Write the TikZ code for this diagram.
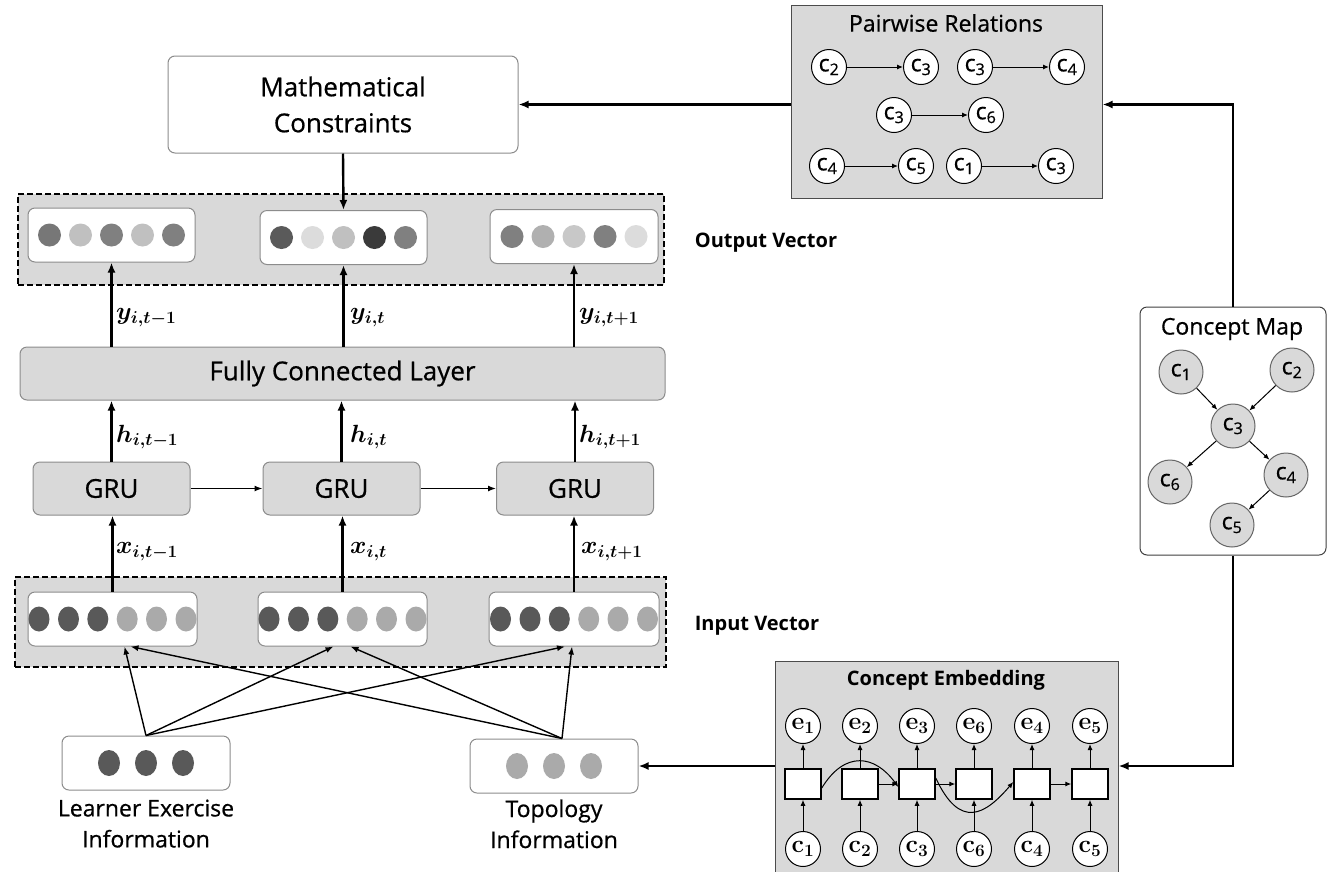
\documentclass[tikz,border=0pt]{standalone}
\usepackage[no-math]{fontspec}
\setmainfont{Open Sans}[UprightFeatures={FakeBold=0.6}]
\usepackage{amsmath,bm}
\usetikzlibrary{arrows.meta}
\definecolor{boxgray}{HTML}{D9D9D9}
\definecolor{edgegray}{HTML}{8C8C8C}
\definecolor{dA}{HTML}{595959}
\definecolor{dB}{HTML}{AAAAAA}
\definecolor{o1}{HTML}{777777}
\definecolor{o2}{HTML}{C0C0C0}
\definecolor{o3}{HTML}{808080}
\definecolor{o4}{HTML}{5A5A5A}
\definecolor{o5}{HTML}{DCDCDC}
\definecolor{o6}{HTML}{3A3A3A}
\definecolor{o7}{HTML}{B0B0B0}
\definecolor{o8}{HTML}{C8C8C8}
\newcommand{\cn}[1]{c\textsubscript{#1}}
\tikzset{
  wbox/.style={draw=edgegray, fill=white, rounded corners=7pt, line width=1pt, inner sep=0pt, align=center},
  gbox/.style={draw=edgegray, fill=boxgray, rounded corners=7pt, line width=1pt, inner sep=0pt, align=center},
  dashbox/.style={draw=black, dashed, dash pattern=on 6pt off 3pt, fill=boxgray, line width=2.2pt, inner sep=0pt},
  panel/.style={draw=black!70, fill=boxgray, line width=1pt, inner sep=0pt},
  arr/.style={-{Latex[length=10pt,width=8pt]}, line width=2.4pt},
  tarr/.style={-{Latex[length=8pt,width=6pt]}, line width=1.4pt},
  sarr/.style={-{Latex[length=6pt,width=5pt]}, line width=1pt},
  wcirc/.style={circle, draw=black, fill=white, line width=1pt, minimum size=35pt, inner sep=0pt, font=\fontsize{23}{23}\selectfont},
  gcirc/.style={circle, draw=black!60, fill=boxgray, line width=1pt, minimum size=44pt, inner sep=0pt, font=\fontsize{23}{23}\selectfont},
  ecirc/.style={circle, draw=black, fill=white, line width=1pt, minimum size=35pt, inner sep=0pt, font=\fontsize{25}{25}\selectfont},
  sq/.style={draw=black, fill=white, line width=1.5pt, minimum width=36pt, minimum height=30pt, inner sep=0pt},
  lbl/.style={anchor=west, inner sep=0pt, font=\fontsize{25}{25}\selectfont},
  big/.style={font=\fontsize{26}{36}\selectfont},
  sect/.style={font=\bfseries\fontsize{20}{20}\selectfont},
}
\begin{document}
\begin{tikzpicture}[x=1pt,y=-1pt]
\useasboundingbox (0,0) rectangle (1327,871);
\fill[white] (0,0) rectangle (1327,871);

% ---- left column ----
\node[wbox, big, minimum width=350pt, minimum height=97pt] (mc) at (343,104.5) {Mathematical\\Constraints};

\node[dashbox, minimum width=646pt, minimum height=91pt] (outv) at (341,239.5) {};
\node[wbox, minimum width=167pt, minimum height=54pt] (ob1) at (111.5,235) {};
\node[wbox, minimum width=167pt, minimum height=54pt] (ob2) at (343.5,237.5) {};
\node[wbox, minimum width=168pt, minimum height=54pt] (ob3) at (574,236.5) {};
\foreach \c/\d in {o1/-62,o2/-31,o3/0,o2/31,o3/62} \fill[\c] ([xshift=\d pt]ob1.center) circle (11.5);
\foreach \c/\d in {o4/-62,o5/-31,o2/0,o6/31,o3/62} \fill[\c] ([xshift=\d pt]ob2.center) circle (11.5);
\foreach \c/\d in {o3/-62,o7/-31,o8/0,o3/31,o5/62} \fill[\c] ([xshift=\d pt]ob3.center) circle (11.5);
\node[sect] (outlbl) at (766,243) {Output Vector};

\node[gbox, big, minimum width=645pt, minimum height=53pt] (fcl) at (342.5,373.5) {Fully Connected Layer};

\node[gbox, big, minimum width=157pt, minimum height=53pt] (g1) at (111.5,488.5) {GRU};
\node[gbox, big, minimum width=157pt, minimum height=53pt] (g2) at (341.5,488.5) {GRU};
\node[gbox, big, minimum width=157pt, minimum height=53pt] (g3) at (575,488.5) {GRU};

\node[dashbox, minimum width=651pt, minimum height=90pt] (inv) at (340.5,622) {};
\node[wbox, minimum width=169pt, minimum height=54pt] (ib1) at (112.5,619) {};
\node[wbox, minimum width=169pt, minimum height=54pt] (ib2) at (342.5,619) {};
\node[wbox, minimum width=170pt, minimum height=54pt] (ib3) at (574,619) {};
\foreach \b in {ib1,ib2,ib3}{
  \foreach \d in {-73.5,-44,-14.7} \fill[dA] ([xshift=\d pt]\b.center) ellipse (10.5 and 12.5);
  \foreach \d in {14.7,44,73.5} \fill[dB] ([xshift=\d pt]\b.center) ellipse (10.5 and 12.5);
}
\node[sect] (inlbl) at (757,626) {Input Vector};

\node[wbox, minimum width=168pt, minimum height=54pt] (le) at (146,763) {};
\foreach \d in {-37,0,37} \fill[dA] ([xshift=\d pt]le.center) ellipse (11 and 13);
\node[font=\fontsize{23}{31}\selectfont, align=center, anchor=north] (letxt) at (146,796) {Learner Exercise\\Information};

\node[wbox, minimum width=168pt, minimum height=54pt] (topo) at (554,766) {};
\foreach \d in {-37,0,37} \fill[dB] ([xshift=\d pt]topo.center) ellipse (11 and 13);
\node[font=\fontsize{23}{31}\selectfont, align=center, anchor=north] (totxt) at (554,796) {Topology\\Information};

% arrows left column
\draw[arr] (mc.south) -- (ob2.north);
\draw[arr] (fcl.north -| ob1) -- (ob1.south);
\draw[arr] (fcl.north -| ob2) -- (ob2.south);
\draw[arr] (fcl.north -| ob3) -- (ob3.south);
\draw[arr] (g1.north) -- (fcl.south -| g1);
\draw[arr] (g2.north) -- (fcl.south -| g2);
\draw[arr] (g3.north) -- (fcl.south -| g3);
\draw[tarr] (g1.east) -- (g2.west);
\draw[tarr] (g2.east) -- (g3.west);
\draw[arr] (ib1.north) -- (g1.south -| ib1);
\draw[arr] (ib2.north) -- (g2.south -| ib2);
\draw[arr] (ib3.north) -- (g3.south -| ib3);

\node[lbl] (ly1) at (116,318) {$\bm{y_{i,t-1}}$};
\node[lbl] (ly2) at (350,318) {$\bm{y_{i,t}}$};
\node[lbl] (ly3) at (579,318) {$\bm{y_{i,t+1}}$};
\node[lbl] (lh1) at (116,437) {$\bm{h_{i,t-1}}$};
\node[lbl] (lh2) at (350,437) {$\bm{h_{i,t}}$};
\node[lbl] (lh3) at (579,437) {$\bm{h_{i,t+1}}$};
\node[lbl] (lx1) at (116,552) {$\bm{x_{i,t-1}}$};
\node[lbl] (lx2) at (350,552) {$\bm{x_{i,t}}$};
\node[lbl] (lx3) at (581,552) {$\bm{x_{i,t+1}}$};

\draw[tarr] (le.north) -- ([xshift=12pt]ib1.south);
\draw[tarr] (le.north) -- ([xshift=-9pt]ib2.south);
\draw[tarr] (le.north) -- ([xshift=-9pt]ib3.south);
\draw[tarr] ([xshift=8pt]topo.north) -- ([xshift=18pt]ib1.south);
\draw[tarr] ([xshift=8pt]topo.north) -- ([xshift=8pt]ib2.south);
\draw[tarr] ([xshift=8pt]topo.north) -- ([xshift=-2pt]ib3.south);

% ---- Pairwise relations ----
\node[panel, minimum width=311pt, minimum height=193pt] (pr) at (946.5,101.5) {};
\node[font=\fontsize{23}{23}\selectfont] (prt) at (946,23) {Pairwise Relations};
\node[wcirc] (p1a) at (829,67) {\cn{2}};
\node[wcirc] (p1b) at (921,67) {\cn{3}};
\node[wcirc] (p2a) at (975,67) {\cn{3}};
\node[wcirc] (p2b) at (1067,67) {\cn{4}};
\node[wcirc] (p3a) at (894,115) {\cn{3}};
\node[wcirc] (p3b) at (986,115) {\cn{6}};
\node[wcirc] (p4a) at (827,166) {\cn{4}};
\node[wcirc] (p4b) at (916,166) {\cn{5}};
\node[wcirc] (p5a) at (964,166) {\cn{1}};
\node[wcirc] (p5b) at (1056,166) {\cn{3}};
\foreach \a/\b in {p1a/p1b,p2a/p2b,p3a/p3b,p4a/p4b,p5a/p5b} \draw[sarr] (\a) -- (\b);

\draw[arr] (mc.east -| pr.west) -- (mc.east);

% ---- Concept map ----
\node[wbox, draw=black!75, minimum width=186pt, minimum height=248pt] (cm) at (1233,431) {};
\node[font=\fontsize{23}{23}\selectfont] (cmt) at (1232,329) {Concept Map};
\node[gcirc] (m1) at (1181,372) {\cn{1}};
\node[gcirc] (m2) at (1292,370) {\cn{2}};
\node[gcirc] (m3) at (1233,426) {\cn{3}};
\node[gcirc] (m6) at (1170,482) {\cn{6}};
\node[gcirc] (m4) at (1286,475) {\cn{4}};
\node[gcirc] (m5) at (1232,525) {\cn{5}};
\foreach \a/\b in {m1/m3,m2/m3,m3/m6,m3/m4,m4/m5} \draw[sarr] (\a) -- (\b);

\draw[arr] (cm.north) |- (pr.east |- mc.east);

% ---- Concept embedding ----
\node[panel, minimum width=343pt, minimum height=214pt] (ce) at (946.5,768) {};
\node[sect] (cet) at (946,680) {Concept Embedding};
\foreach \i/\x/\k in {1/803/1,2/860/2,3/917/3,4/974/6,5/1032/4,6/1090/5}{
  \node[sq] (s\i) at (\x,784) {};
  \node[ecirc] (e\i) at (\x,726) {$\mathbf{e}_{\mathbf{\k}}$};
  \node[ecirc] (c\i) at (\x,849) {$\mathbf{c}_{\mathbf{\k}}$};
  \draw[sarr] (s\i.north) -- (e\i.south);
  \draw[sarr] (c\i.north) -- (s\i.south);
}
\draw[sarr] (s2.east) -- (s3.west);
\draw[sarr] (s3.east) -- (s4.west);
\draw[sarr] (s5.east) -- (s6.west);
\draw[sarr] ([yshift=-4pt]s1.east) .. controls (845,750) and (875,755) .. ([yshift=-3pt]s3.west);
\draw[sarr] ([yshift=6pt]s3.east) .. controls (960,830) and (985,815) .. ([yshift=2pt]s5.west);

\draw[arr] (cm.south) |- (ce.east |- topo.east);
\draw[arr] (ce.west |- topo.east) -- (topo.east);
\end{tikzpicture}
\end{document}
